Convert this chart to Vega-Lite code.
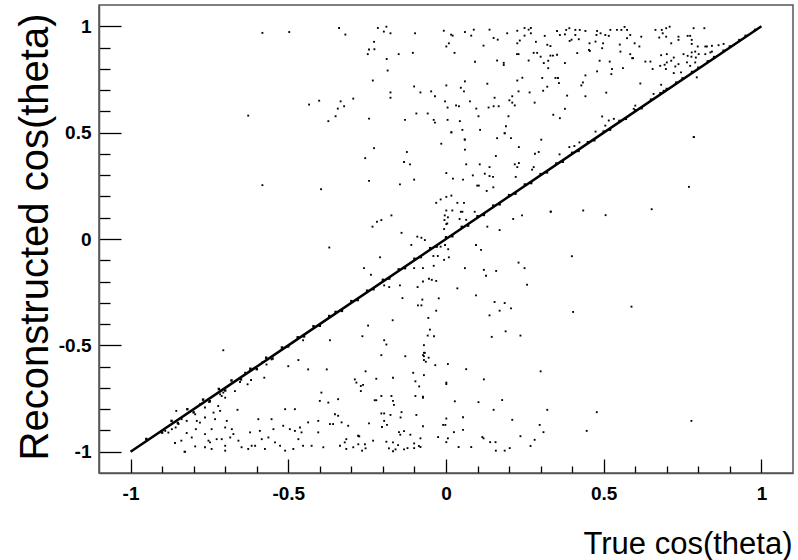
{
  "$schema": "https://vega.github.io/schema/vega-lite/v6.json",
  "width": 694,
  "height": 468,
  "autosize": {"type": "none"},
  "padding": {"left": 99, "top": 5, "right": 5, "bottom": 87},
  "background": "white",
  "config": {"view": {"stroke": "#555", "strokeWidth": 1.5}},
  "datasets": {
    "diagline": [{"x": -1, "y": -1}, {"x": -0.5, "y": -0.5}, {"x": 0, "y": 0}, {"x": 0.5, "y": 0.5}, {"x": 1, "y": 1}],
    "diag": [
      {"x": -0.95, "y": -0.94}, {"x": -0.9, "y": -0.91}, {"x": -0.87, "y": -0.855}, {"x": -0.85, "y": -0.865}, {"x": -0.82, "y": -0.8}, {"x": -0.8, "y": -0.815}, {"x": -0.77, "y": -0.755}, {"x": -0.75, "y": -0.765}, {"x": -0.72, "y": -0.705}, {"x": -0.7, "y": -0.712}, {"x": -0.68, "y": -0.665}, {"x": -0.65, "y": -0.66}, {"x": -0.62, "y": -0.61}, {"x": -0.6, "y": -0.612}, {"x": -0.57, "y": -0.558}, {"x": -0.55, "y": -0.562}, {"x": -0.52, "y": -0.51}, {"x": -0.5, "y": -0.505}, {"x": -0.47, "y": -0.462}, {"x": -0.45, "y": -0.458}, {"x": -0.42, "y": -0.41}, {"x": -0.4, "y": -0.408}, {"x": -0.37, "y": -0.362}, {"x": -0.35, "y": -0.343}, {"x": -0.33, "y": -0.338}, {"x": -0.3, "y": -0.292}, {"x": -0.28, "y": -0.287}, {"x": -0.25, "y": -0.243}, {"x": -0.23, "y": -0.236}, {"x": -0.2, "y": -0.192}, {"x": -0.18, "y": -0.186}, {"x": -0.15, "y": -0.143}, {"x": -0.13, "y": -0.137}, {"x": -0.1, "y": -0.093}, {"x": -0.08, "y": -0.085}, {"x": -0.05, "y": -0.043}, {"x": -0.03, "y": -0.036}, {"x": 0, "y": 0.008}, {"x": 0.02, "y": 0.013}, {"x": 0.05, "y": 0.057}, {"x": 0.07, "y": 0.063}, {"x": 0.1, "y": 0.107}, {"x": 0.12, "y": 0.113}, {"x": 0.15, "y": 0.157}, {"x": 0.17, "y": 0.163}, {"x": 0.2, "y": 0.206}, {"x": 0.22, "y": 0.213}, {"x": 0.25, "y": 0.256}, {"x": 0.27, "y": 0.263}, {"x": 0.3, "y": 0.305}, {"x": 0.32, "y": 0.313}, {"x": 0.35, "y": 0.355}, {"x": 0.37, "y": 0.363}, {"x": 0.4, "y": 0.405}, {"x": 0.42, "y": 0.414}, {"x": 0.45, "y": 0.455}, {"x": 0.47, "y": 0.464}, {"x": 0.5, "y": 0.505}, {"x": 0.52, "y": 0.514}, {"x": 0.55, "y": 0.555}, {"x": 0.57, "y": 0.565}, {"x": 0.6, "y": 0.605}, {"x": 0.62, "y": 0.615}, {"x": 0.65, "y": 0.655}, {"x": 0.68, "y": 0.685}, {"x": 0.7, "y": 0.705}, {"x": 0.73, "y": 0.735}, {"x": 0.75, "y": 0.755}, {"x": 0.78, "y": 0.785}, {"x": 0.8, "y": 0.805}, {"x": 0.83, "y": 0.835}, {"x": 0.85, "y": 0.855}, {"x": 0.88, "y": 0.885}, {"x": 0.9, "y": 0.905}, {"x": 0.93, "y": 0.935}, {"x": 0.95, "y": 0.955}, {"x": 0.98, "y": 0.983}
    ],
    "scatter": [
      {"x": -0.497, "y": 0.973}, {"x": -0.339, "y": 0.992}, {"x": -0.319, "y": 0.961}, {"x": -0.216, "y": 0.992}, {"x": -0.189, "y": 0.998}, {"x": -0.197, "y": 0.975}, {"x": -0.176, "y": 0.967}, {"x": -0.098, "y": 0.967}, {"x": -0.228, "y": 0.927}, {"x": -0.244, "y": 0.891}, {"x": -0.227, "y": 0.892}, {"x": -0.248, "y": 0.869}, {"x": -0.188, "y": 0.846}, {"x": -0.15, "y": 0.869}, {"x": -0.105, "y": 0.875}, {"x": -0.185, "y": 0.792}, {"x": -0.232, "y": 0.745}, {"x": -0.007, "y": 0.979}, {"x": 0.016, "y": 0.961}, {"x": 0.021, "y": 0.956}, {"x": 0.009, "y": 0.92}, {"x": 0.001, "y": 0.905}, {"x": 0.027, "y": 0.875}, {"x": 0.06, "y": 0.973}, {"x": 0.088, "y": 0.984}, {"x": 0.08, "y": 0.956}, {"x": 0.138, "y": 0.984}, {"x": 0.151, "y": 0.945}, {"x": 0.164, "y": 0.937}, {"x": 0.119, "y": 0.909}, {"x": 0.194, "y": 0.967}, {"x": 0.226, "y": 0.979}, {"x": 0.249, "y": 0.992}, {"x": 0.262, "y": 0.984}, {"x": 0.269, "y": 0.992}, {"x": 0.249, "y": 0.956}, {"x": 0.269, "y": 0.967}, {"x": 0.234, "y": 0.933}, {"x": 0.226, "y": 0.92}, {"x": 0.285, "y": 0.927}, {"x": 0.225, "y": 0.869}, {"x": 0.23, "y": 0.869}, {"x": 0.278, "y": 0.875}, {"x": 0.289, "y": 0.875}, {"x": 0.262, "y": 0.839}, {"x": 0.162, "y": 0.839}, {"x": 0.183, "y": 0.828}, {"x": 0.183, "y": 0.818}, {"x": 0.092, "y": 0.833}, {"x": 0.242, "y": 0.758}, {"x": 0.226, "y": 0.745}, {"x": 0.131, "y": 0.73}, {"x": 0.06, "y": 0.741}, {"x": 0.001, "y": 0.722}, {"x": 0.047, "y": 0.711}, {"x": 0.057, "y": 0.694}, {"x": -0.101, "y": 0.717}, {"x": -0.081, "y": 0.689}, {"x": -0.047, "y": 0.694}, {"x": -0.035, "y": 0.671}, {"x": -0.176, "y": 0.689}, {"x": -0.176, "y": 0.664}, {"x": -0.294, "y": 0.66}, {"x": -0.334, "y": 0.647}, {"x": -0.323, "y": 0.624}, {"x": -0.343, "y": 0.613}, {"x": -0.35, "y": 0.577}, {"x": -0.373, "y": 0.554}, {"x": -0.244, "y": 0.566}, {"x": -0.13, "y": 0.56}, {"x": -0.094, "y": 0.59}, {"x": -0.058, "y": 0.59}, {"x": -0.039, "y": 0.56}, {"x": -0.035, "y": 0.547}, {"x": -0.003, "y": 0.647}, {"x": 0.005, "y": 0.618}, {"x": 0.032, "y": 0.628}, {"x": 0.041, "y": 0.624}, {"x": 0.076, "y": 0.647}, {"x": 0.096, "y": 0.613}, {"x": 0.103, "y": 0.577}, {"x": 0.005, "y": 0.56}, {"x": 0.044, "y": 0.554}, {"x": 0.017, "y": 0.501}, {"x": 0.052, "y": 0.513}, {"x": 0.108, "y": 0.513}, {"x": 0.059, "y": 0.468}, {"x": 0.135, "y": 0.618}, {"x": 0.151, "y": 0.624}, {"x": 0.167, "y": 0.624}, {"x": 0.154, "y": 0.664}, {"x": 0.21, "y": 0.671}, {"x": 0.201, "y": 0.652}, {"x": 0.21, "y": 0.641}, {"x": 0.218, "y": 0.628}, {"x": 0.23, "y": 0.694}, {"x": 0.265, "y": 0.689}, {"x": 0.281, "y": 0.641}, {"x": 0.198, "y": 0.577}, {"x": 0.19, "y": 0.53}, {"x": 0.186, "y": 0.497}, {"x": 0.162, "y": 0.474}, {"x": 0.206, "y": 0.474},
      {"x": 0.313, "y": 0.955}, {"x": 0.352, "y": 0.978}, {"x": 0.361, "y": 0.959}, {"x": 0.377, "y": 0.962}, {"x": 0.381, "y": 0.983}, {"x": 0.391, "y": 0.991}, {"x": 0.41, "y": 0.983}, {"x": 0.424, "y": 0.983}, {"x": 0.442, "y": 0.978}, {"x": 0.41, "y": 0.959}, {"x": 0.398, "y": 0.937}, {"x": 0.392, "y": 0.931}, {"x": 0.421, "y": 0.939}, {"x": 0.479, "y": 0.978}, {"x": 0.49, "y": 0.967}, {"x": 0.477, "y": 0.959}, {"x": 0.505, "y": 0.959}, {"x": 0.516, "y": 0.955}, {"x": 0.521, "y": 0.983}, {"x": 0.542, "y": 0.983}, {"x": 0.556, "y": 0.983}, {"x": 0.566, "y": 0.997}, {"x": 0.574, "y": 0.983}, {"x": 0.584, "y": 0.959}, {"x": 0.574, "y": 0.944}, {"x": 0.619, "y": 0.951}, {"x": 0.598, "y": 0.92}, {"x": 0.613, "y": 0.905}, {"x": 0.551, "y": 0.914}, {"x": 0.553, "y": 0.881}, {"x": 0.584, "y": 0.869}, {"x": 0.593, "y": 0.85}, {"x": 0.59, "y": 0.85}, {"x": 0.498, "y": 0.92}, {"x": 0.495, "y": 0.897}, {"x": 0.474, "y": 0.928}, {"x": 0.455, "y": 0.92}, {"x": 0.453, "y": 0.889}, {"x": 0.456, "y": 0.884}, {"x": 0.487, "y": 0.838}, {"x": 0.519, "y": 0.834}, {"x": 0.526, "y": 0.799}, {"x": 0.524, "y": 0.775}, {"x": 0.479, "y": 0.788}, {"x": 0.442, "y": 0.769}, {"x": 0.434, "y": 0.736}, {"x": 0.429, "y": 0.722}, {"x": 0.561, "y": 0.803}, {"x": 0.508, "y": 0.688}, {"x": 0.616, "y": 0.731}, {"x": 0.442, "y": 0.671}, {"x": 0.384, "y": 0.674}, {"x": 0.377, "y": 0.612}, {"x": 0.34, "y": 0.584}, {"x": 0.361, "y": 0.568}, {"x": 0.416, "y": 0.874}, {"x": 0.377, "y": 0.827}, {"x": 0.352, "y": 0.866}, {"x": 0.339, "y": 0.862}, {"x": 0.331, "y": 0.862}, {"x": 0.324, "y": 0.838}, {"x": 0.31, "y": 0.827}, {"x": 0.321, "y": 0.913}, {"x": 0.331, "y": 0.907}, {"x": 0.3, "y": 0.857}, {"x": 0.324, "y": 0.803}, {"x": 0.305, "y": 0.757}, {"x": 0.347, "y": 0.757}, {"x": 0.355, "y": 0.757}, {"x": 0.358, "y": 0.733}, {"x": 0.321, "y": 0.716}, {"x": 0.308, "y": 0.697}, {"x": 0.664, "y": 0.983}, {"x": 0.684, "y": 0.983}, {"x": 0.698, "y": 0.991}, {"x": 0.709, "y": 0.998}, {"x": 0.687, "y": 0.967}, {"x": 0.676, "y": 0.947}, {"x": 0.698, "y": 0.951}, {"x": 0.714, "y": 0.92}, {"x": 0.737, "y": 0.951}, {"x": 0.737, "y": 0.936}, {"x": 0.766, "y": 0.955}, {"x": 0.774, "y": 0.955}, {"x": 0.779, "y": 0.936}, {"x": 0.785, "y": 0.991}, {"x": 0.819, "y": 0.991}, {"x": 0.779, "y": 0.917}, {"x": 0.798, "y": 0.905}, {"x": 0.822, "y": 0.905}, {"x": 0.827, "y": 0.905}, {"x": 0.843, "y": 0.908}, {"x": 0.864, "y": 0.911}, {"x": 0.88, "y": 0.917}, {"x": 0.753, "y": 0.869}, {"x": 0.766, "y": 0.861}, {"x": 0.779, "y": 0.877}, {"x": 0.79, "y": 0.881}, {"x": 0.778, "y": 0.857}, {"x": 0.792, "y": 0.853}, {"x": 0.801, "y": 0.869}, {"x": 0.822, "y": 0.869}, {"x": 0.838, "y": 0.877}, {"x": 0.843, "y": 0.881}, {"x": 0.682, "y": 0.864}, {"x": 0.7, "y": 0.869}, {"x": 0.7, "y": 0.83}, {"x": 0.714, "y": 0.838}, {"x": 0.722, "y": 0.853}, {"x": 0.632, "y": 0.834}, {"x": 0.648, "y": 0.834}, {"x": 0.679, "y": 0.814}, {"x": 0.693, "y": 0.819}, {"x": 0.697, "y": 0.799}, {"x": 0.655, "y": 0.799}, {"x": 0.722, "y": 0.78}, {"x": 0.745, "y": 0.783}, {"x": 0.774, "y": 0.814}, {"x": 0.764, "y": 0.83}, {"x": 0.79, "y": 0.83}, {"x": 0.795, "y": 0.76}, {"x": 0.727, "y": 0.811}, {"x": 0.737, "y": 0.822}, {"x": 0.682, "y": 0.725}, {"x": 0.785, "y": 0.479}, {"x": 0.6, "y": 0.627}, {"x": 0.595, "y": 0.612}, {"x": 0.495, "y": 0.576}, {"x": 0.516, "y": 0.557}, {"x": 0.532, "y": 0.565}, {"x": 0.505, "y": 0.533}, {"x": 0.658, "y": 0.682}, {"x": 0.69, "y": 0.697},
      {"x": -0.706, "y": -0.523}, {"x": -0.576, "y": -0.652}, {"x": -0.5, "y": -0.598}, {"x": -0.468, "y": -0.569}, {"x": -0.437, "y": -0.613}, {"x": -0.378, "y": -0.613}, {"x": -0.453, "y": -0.476}, {"x": -0.368, "y": -0.476}, {"x": -0.553, "y": -0.566}, {"x": -0.569, "y": -0.59}, {"x": -0.582, "y": -0.579}, {"x": -0.618, "y": -0.663}, {"x": -0.629, "y": -0.683}, {"x": -0.637, "y": -0.628}, {"x": -0.653, "y": -0.672}, {"x": -0.669, "y": -0.715}, {"x": -0.706, "y": -0.722}, {"x": -0.711, "y": -0.738}, {"x": -0.7, "y": -0.746}, {"x": -0.716, "y": -0.73}, {"x": -0.661, "y": -0.803}, {"x": -0.722, "y": -0.785}, {"x": -0.716, "y": -0.808}, {"x": -0.748, "y": -0.761}, {"x": -0.764, "y": -0.792}, {"x": -0.78, "y": -0.777}, {"x": -0.855, "y": -0.808}, {"x": -0.838, "y": -0.847}, {"x": -0.822, "y": -0.855}, {"x": -0.848, "y": -0.87}, {"x": -0.857, "y": -0.886}, {"x": -0.869, "y": -0.894}, {"x": -0.88, "y": -0.91}, {"x": -0.89, "y": -0.902}, {"x": -0.859, "y": -0.959}, {"x": -0.829, "y": -1.0}, {"x": -0.839, "y": -0.948}, {"x": -0.795, "y": -0.975}, {"x": -0.793, "y": -0.894}, {"x": -0.806, "y": -0.933}, {"x": -0.822, "y": -0.912}, {"x": -0.79, "y": -0.855}, {"x": -0.78, "y": -0.863}, {"x": -0.795, "y": -0.824}, {"x": -0.764, "y": -0.839}, {"x": -0.737, "y": -0.816}, {"x": -0.732, "y": -0.847}, {"x": -0.695, "y": -0.855}, {"x": -0.7, "y": -0.886}, {"x": -0.743, "y": -0.894}, {"x": -0.764, "y": -0.917}, {"x": -0.748, "y": -0.956}, {"x": -0.727, "y": -0.941}, {"x": -0.711, "y": -0.941}, {"x": -0.743, "y": -0.987}, {"x": -0.764, "y": -0.979}, {"x": -0.7, "y": -0.972}, {"x": -0.679, "y": -0.894}, {"x": -0.674, "y": -0.917}, {"x": -0.684, "y": -0.933}, {"x": -0.658, "y": -0.948}, {"x": -0.648, "y": -0.979}, {"x": -0.621, "y": -0.909}, {"x": -0.616, "y": -0.972}, {"x": -0.595, "y": -0.847}, {"x": -0.59, "y": -0.902}, {"x": -0.584, "y": -0.941}, {"x": -0.563, "y": -0.933}, {"x": -0.553, "y": -0.847}, {"x": -0.547, "y": -0.894}, {"x": -0.542, "y": -0.956}, {"x": -0.526, "y": -0.972}, {"x": -0.516, "y": -0.878}, {"x": -0.51, "y": -0.8}, {"x": -0.495, "y": -0.894}, {"x": -0.479, "y": -0.8}, {"x": -0.479, "y": -0.902}, {"x": -0.468, "y": -0.941}, {"x": -0.463, "y": -0.886}, {"x": -0.458, "y": -0.909}, {"x": -0.453, "y": -0.972}, {"x": -0.437, "y": -0.862}, {"x": -0.426, "y": -0.972}, {"x": -0.405, "y": -0.909}, {"x": -0.405, "y": -0.855}, {"x": -0.4, "y": -0.761}, {"x": -0.395, "y": -0.722}, {"x": -0.373, "y": -0.769}, {"x": -0.368, "y": -0.87}, {"x": -0.358, "y": -0.87}, {"x": -0.352, "y": -0.824}, {"x": -0.342, "y": -0.831}, {"x": -0.342, "y": -0.753}, {"x": -0.331, "y": -0.862}, {"x": -0.321, "y": -0.956}, {"x": -0.316, "y": -0.941}, {"x": -0.31, "y": -0.878}, {"x": -0.289, "y": -0.66}, {"x": -0.284, "y": -0.675}, {"x": -0.278, "y": -0.925}, {"x": -0.294, "y": -0.979}, {"x": -0.316, "y": -0.987}, {"x": -0.336, "y": -0.972}, {"x": -0.389, "y": -0.979}, {"x": -0.484, "y": -0.987}, {"x": -0.51, "y": -0.995}, {"x": -0.574, "y": -0.987}, {"x": -0.627, "y": -0.987}, {"x": -0.7, "y": -0.995}, {"x": -0.753, "y": -0.948}, {"x": -0.605, "y": -0.972}, {"x": -0.827, "y": -1.0},
      {"x": -0.196, "y": -0.476}, {"x": -0.189, "y": -0.496}, {"x": -0.205, "y": -0.546}, {"x": -0.255, "y": -0.622}, {"x": -0.27, "y": -0.691}, {"x": -0.263, "y": -0.686}, {"x": -0.27, "y": -0.715}, {"x": -0.221, "y": -0.657}, {"x": -0.168, "y": -0.652}, {"x": -0.129, "y": -0.551}, {"x": -0.07, "y": -0.499}, {"x": -0.07, "y": -0.535}, {"x": -0.067, "y": -0.535}, {"x": -0.073, "y": -0.546}, {"x": -0.07, "y": -0.551}, {"x": -0.055, "y": -0.558}, {"x": -0.07, "y": -0.569}, {"x": -0.064, "y": -0.577}, {"x": -0.034, "y": -0.593}, {"x": 0.006, "y": -0.588}, {"x": -0.104, "y": -0.629}, {"x": -0.097, "y": -0.669}, {"x": -0.085, "y": -0.693}, {"x": -0.07, "y": -0.64}, {"x": 0.001, "y": -0.675}, {"x": 0.001, "y": -0.682}, {"x": 0.064, "y": -0.612}, {"x": 0.12, "y": -0.66}, {"x": 0.3, "y": -0.622}, {"x": -0.205, "y": -0.738}, {"x": -0.173, "y": -0.738}, {"x": -0.168, "y": -0.761}, {"x": -0.165, "y": -0.78}, {"x": -0.221, "y": -0.758}, {"x": -0.226, "y": -0.758}, {"x": -0.097, "y": -0.738}, {"x": -0.073, "y": -0.741}, {"x": -0.073, "y": -0.746}, {"x": 0.028, "y": -0.763}, {"x": 0.103, "y": -0.767}, {"x": 0.178, "y": -0.757}, {"x": 0.151, "y": -0.803}, {"x": 0.321, "y": -0.803}, {"x": 0.478, "y": -0.814}, {"x": -0.205, "y": -0.82}, {"x": -0.196, "y": -0.82}, {"x": -0.196, "y": -0.855}, {"x": -0.176, "y": -0.827}, {"x": -0.141, "y": -0.814}, {"x": -0.144, "y": -0.839}, {"x": -0.094, "y": -0.827}, {"x": -0.244, "y": -0.867}, {"x": -0.203, "y": -0.884}, {"x": -0.187, "y": -0.874}, {"x": 0.001, "y": -0.844}, {"x": -0.009, "y": -0.874}, {"x": -0.002, "y": -0.874}, {"x": 0.054, "y": -0.838}, {"x": 0.054, "y": -0.897}, {"x": 0.025, "y": -0.908}, {"x": -0.073, "y": -0.88}, {"x": 0.21, "y": -0.85}, {"x": 0.297, "y": -0.874}, {"x": 0.309, "y": -0.908}, {"x": 0.446, "y": -0.902}, {"x": 0.236, "y": -0.927}, {"x": 0.281, "y": -0.944}, {"x": 0.268, "y": -0.973}, {"x": -0.149, "y": -0.908}, {"x": -0.133, "y": -0.903}, {"x": -0.145, "y": -0.92}, {"x": -0.113, "y": -0.92}, {"x": -0.081, "y": -0.937}, {"x": -0.025, "y": -0.931}, {"x": 0.006, "y": -0.937}, {"x": 0.001, "y": -0.955}, {"x": 0.115, "y": -0.931}, {"x": 0.119, "y": -0.937}, {"x": 0.14, "y": -0.955}, {"x": 0.157, "y": -0.955}, {"x": 0.158, "y": -0.995}, {"x": 0.186, "y": -0.995}, {"x": 0.202, "y": -0.983}, {"x": 0.08, "y": -0.978}, {"x": 0.04, "y": -0.978}, {"x": -0.278, "y": -0.925}, {"x": -0.275, "y": -0.928}, {"x": -0.231, "y": -0.948}, {"x": -0.189, "y": -0.953}, {"x": -0.168, "y": -0.956}, {"x": -0.257, "y": -0.965}, {"x": -0.278, "y": -0.965}, {"x": -0.255, "y": -0.984}, {"x": -0.266, "y": -0.995}, {"x": -0.181, "y": -0.984}, {"x": -0.168, "y": -0.998}, {"x": -0.16, "y": -0.989}, {"x": -0.152, "y": -0.969}, {"x": -0.133, "y": -0.989}, {"x": -0.122, "y": -0.983}, {"x": -0.101, "y": -0.961}, {"x": -0.086, "y": -0.973}, {"x": -0.081, "y": -0.978}, {"x": -0.101, "y": -0.983},
      {"x": 0.017, "y": 0.502}, {"x": 0.186, "y": 0.497}, {"x": 0.302, "y": 0.467}, {"x": 0.06, "y": 0.467}, {"x": -0.015, "y": 0.448}, {"x": -0.228, "y": 0.427}, {"x": 0.231, "y": 0.432}, {"x": 0.06, "y": 0.42}, {"x": -0.124, "y": 0.409}, {"x": 0.294, "y": 0.409}, {"x": 0.282, "y": 0.401}, {"x": 0.158, "y": 0.39}, {"x": -0.256, "y": 0.38}, {"x": -0.133, "y": 0.362}, {"x": -0.114, "y": 0.351}, {"x": 0.064, "y": 0.351}, {"x": 0.107, "y": 0.351}, {"x": 0.218, "y": 0.351}, {"x": 0.231, "y": 0.357}, {"x": 0.226, "y": 0.338}, {"x": 0.278, "y": 0.338}, {"x": 0.273, "y": 0.326}, {"x": 0.138, "y": 0.338}, {"x": 0.001, "y": 0.31}, {"x": 0.085, "y": 0.299}, {"x": 0.123, "y": 0.307}, {"x": 0.138, "y": 0.296}, {"x": 0.149, "y": 0.292}, {"x": 0.221, "y": 0.292}, {"x": -0.244, "y": 0.273}, {"x": -0.146, "y": 0.257}, {"x": -0.101, "y": 0.279}, {"x": 0.022, "y": 0.284}, {"x": 0.054, "y": 0.279}, {"x": 0.099, "y": 0.251}, {"x": 0.104, "y": 0.251}, {"x": 0.15, "y": 0.243}, {"x": 0.129, "y": 0.226}, {"x": 0.001, "y": 0.198}, {"x": 0.017, "y": 0.204}, {"x": -0.017, "y": 0.186}, {"x": -0.031, "y": 0.17}, {"x": 0.036, "y": 0.17}, {"x": 0.057, "y": 0.17}, {"x": 0.001, "y": 0.134}, {"x": 0.02, "y": 0.134}, {"x": 0.047, "y": 0.128}, {"x": 0.052, "y": 0.128}, {"x": 0.091, "y": 0.128}, {"x": -0.004, "y": 0.111}, {"x": 0.006, "y": 0.102}, {"x": -0.005, "y": 0.089}, {"x": 0.004, "y": 0.073}, {"x": 0.001, "y": 0.07}, {"x": -0.006, "y": 0.047}, {"x": 0.043, "y": 0.094}, {"x": 0.064, "y": 0.09}, {"x": 0.131, "y": 0.058}, {"x": 0.17, "y": 0.042}, {"x": 0.241, "y": 0.111}, {"x": 0.213, "y": 0.094}, {"x": 0.332, "y": 0.128}, {"x": -0.173, "y": 0.111}, {"x": -0.205, "y": 0.089}, {"x": -0.219, "y": 0.081}, {"x": -0.233, "y": 0.058}, {"x": -0.141, "y": 0.029}, {"x": -0.091, "y": 0.011}, {"x": -0.078, "y": 0.006}, {"x": -0.067, "y": -0.005}, {"x": -0.11, "y": -0.028}, {"x": 0.095, "y": -0.028}, {"x": 0.111, "y": -0.051}, {"x": -0.003, "y": -0.028}, {"x": 0.007, "y": -0.048}, {"x": -0.017, "y": -0.036}, {"x": -0.04, "y": -0.08}, {"x": -0.026, "y": -0.08}, {"x": -0.006, "y": -0.098}, {"x": 0.009, "y": -0.086}, {"x": -0.209, "y": -0.086}, {"x": -0.26, "y": -0.137}, {"x": -0.238, "y": -0.168}, {"x": -0.101, "y": -0.137}, {"x": -0.073, "y": -0.137}, {"x": -0.039, "y": -0.126}, {"x": 0.06, "y": -0.137}, {"x": 0.12, "y": -0.145}, {"x": 0.127, "y": -0.173}, {"x": 0.159, "y": -0.15}, {"x": 0.23, "y": -0.111}, {"x": 0.249, "y": -0.137}, {"x": 0.257, "y": -0.215}, {"x": -0.054, "y": -0.187}, {"x": -0.045, "y": -0.192}, {"x": -0.031, "y": -0.197}, {"x": -0.073, "y": -0.2}, {"x": -0.09, "y": -0.226}, {"x": -0.146, "y": -0.218}, {"x": -0.18, "y": -0.226}, {"x": -0.196, "y": -0.218}, {"x": 0.036, "y": -0.232}, {"x": 0.095, "y": -0.265}, {"x": 0.154, "y": -0.296}, {"x": 0.186, "y": -0.301}, {"x": 0.206, "y": -0.326}, {"x": 0.17, "y": -0.337}, {"x": 0.138, "y": -0.359}, {"x": -0.138, "y": -0.278}, {"x": -0.075, "y": -0.285}, {"x": -0.089, "y": -0.312}, {"x": -0.078, "y": -0.312}, {"x": -0.023, "y": -0.279}, {"x": -0.031, "y": -0.337}, {"x": -0.169, "y": -0.382}, {"x": -0.247, "y": -0.407}, {"x": -0.265, "y": -0.457}, {"x": -0.056, "y": -0.371}, {"x": -0.051, "y": -0.426}, {"x": -0.058, "y": -0.454}, {"x": -0.038, "y": -0.457}, {"x": 0.189, "y": -0.434}, {"x": 0.236, "y": -0.454}, {"x": 0.145, "y": -0.46},
      {"x": 0.786, "y": 0.479}, {"x": 0.77, "y": 0.245}, {"x": 0.332, "y": 0.129}, {"x": 0.435, "y": 0.134}, {"x": 0.506, "y": 0.112}, {"x": 0.652, "y": 0.14}, {"x": 0.399, "y": -0.081}, {"x": 0.588, "y": -0.318}, {"x": 0.403, "y": -0.343}, {"x": 0.391, "y": 0.432}, {"x": 0.407, "y": 0.437}, {"x": 0.423, "y": 0.454}, {"x": 0.36, "y": 0.398}, {"x": 0.474, "y": 0.505},
      {"x": -0.582, "y": 0.969}, {"x": -0.627, "y": 0.58}, {"x": -0.434, "y": 0.632}, {"x": -0.402, "y": 0.65}, {"x": -0.582, "y": 0.253}, {"x": -0.396, "y": 0.234}, {"x": 0.778, "y": -0.855}, {"x": -0.37, "y": -0.04}
    ]
  },
  "encoding": {
    "x": {
      "field": "x",
      "type": "quantitative",
      "scale": {"domain": [-1.1, 1.1], "nice": false, "zero": false},
      "axis": {
        "title": "True cos(theta)",
        "values": [-1, -0.9, -0.8, -0.7, -0.6, -0.5, -0.4, -0.3, -0.2, -0.1, 0, 0.1, 0.2, 0.3, 0.4, 0.5, 0.6, 0.7, 0.8, 0.9, 1],
        "tickSize": {"condition": {"test": "abs(datum.value*2-round(datum.value*2))<0.001", "value": -14}, "value": -7},
        "labelExpr": "abs(datum.value*2-round(datum.value*2))<0.001 ? ''+datum.value : ''",
        "labelPadding": 25,
        "labelFont": "Liberation Sans",
        "labelFontSize": 19,
        "labelFontWeight": "bold",
        "labelColor": "#000",
        "labelOverlap": false,
        "labelFlush": false,
        "labelBound": false,
        "tickColor": "#000",
        "tickWidth": 1.3,
        "domainColor": "#555",
        "domainWidth": 1.5,
        "grid": false,
        "titleFont": "Liberation Sans",
        "titleFontSize": 31,
        "titleFontWeight": "normal",
        "titleColor": "#000",
        "titleAlign": "right",
        "titleBaseline": "alphabetic",
        "titleX": 693,
        "titleY": 80
      }
    },
    "y": {
      "field": "y",
      "type": "quantitative",
      "scale": {"domain": [-1.1, 1.1], "nice": false, "zero": false},
      "axis": {
        "title": "Reconstructed cos(theta)",
        "values": [-1, -0.9, -0.8, -0.7, -0.6, -0.5, -0.4, -0.3, -0.2, -0.1, 0, 0.1, 0.2, 0.3, 0.4, 0.5, 0.6, 0.7, 0.8, 0.9, 1],
        "tickSize": {"condition": {"test": "abs(datum.value*2-round(datum.value*2))<0.001", "value": -22}, "value": -11},
        "labelExpr": "abs(datum.value*2-round(datum.value*2))<0.001 ? ''+datum.value : ''",
        "labelPadding": 30,
        "labelFont": "Liberation Sans",
        "labelFontSize": 19,
        "labelFontWeight": "bold",
        "labelColor": "#000",
        "labelOverlap": false,
        "labelFlush": false,
        "labelBound": false,
        "tickColor": "#000",
        "tickWidth": 1.3,
        "domainColor": "#555",
        "domainWidth": 1.5,
        "grid": false,
        "titleFont": "Liberation Sans",
        "titleFontSize": 40,
        "titleFontWeight": "normal",
        "titleColor": "#000",
        "titleAngle": 270,
        "titleAlign": "right",
        "titleBaseline": "alphabetic",
        "titleX": -52,
        "titleY": 8
      }
    }
  },
  "layer": [
    {"data": {"name": "diagline"}, "mark": {"type": "line", "color": "#000", "strokeWidth": 2.5}, "encoding": {}},
    {"data": {"name": "diag"}, "mark": {"type": "square", "color": "#000", "size": 6, "opacity": 1}},
    {"data": {"name": "scatter"}, "mark": {"type": "square", "color": "#000", "size": 3.5, "opacity": 1}}
  ]
}
